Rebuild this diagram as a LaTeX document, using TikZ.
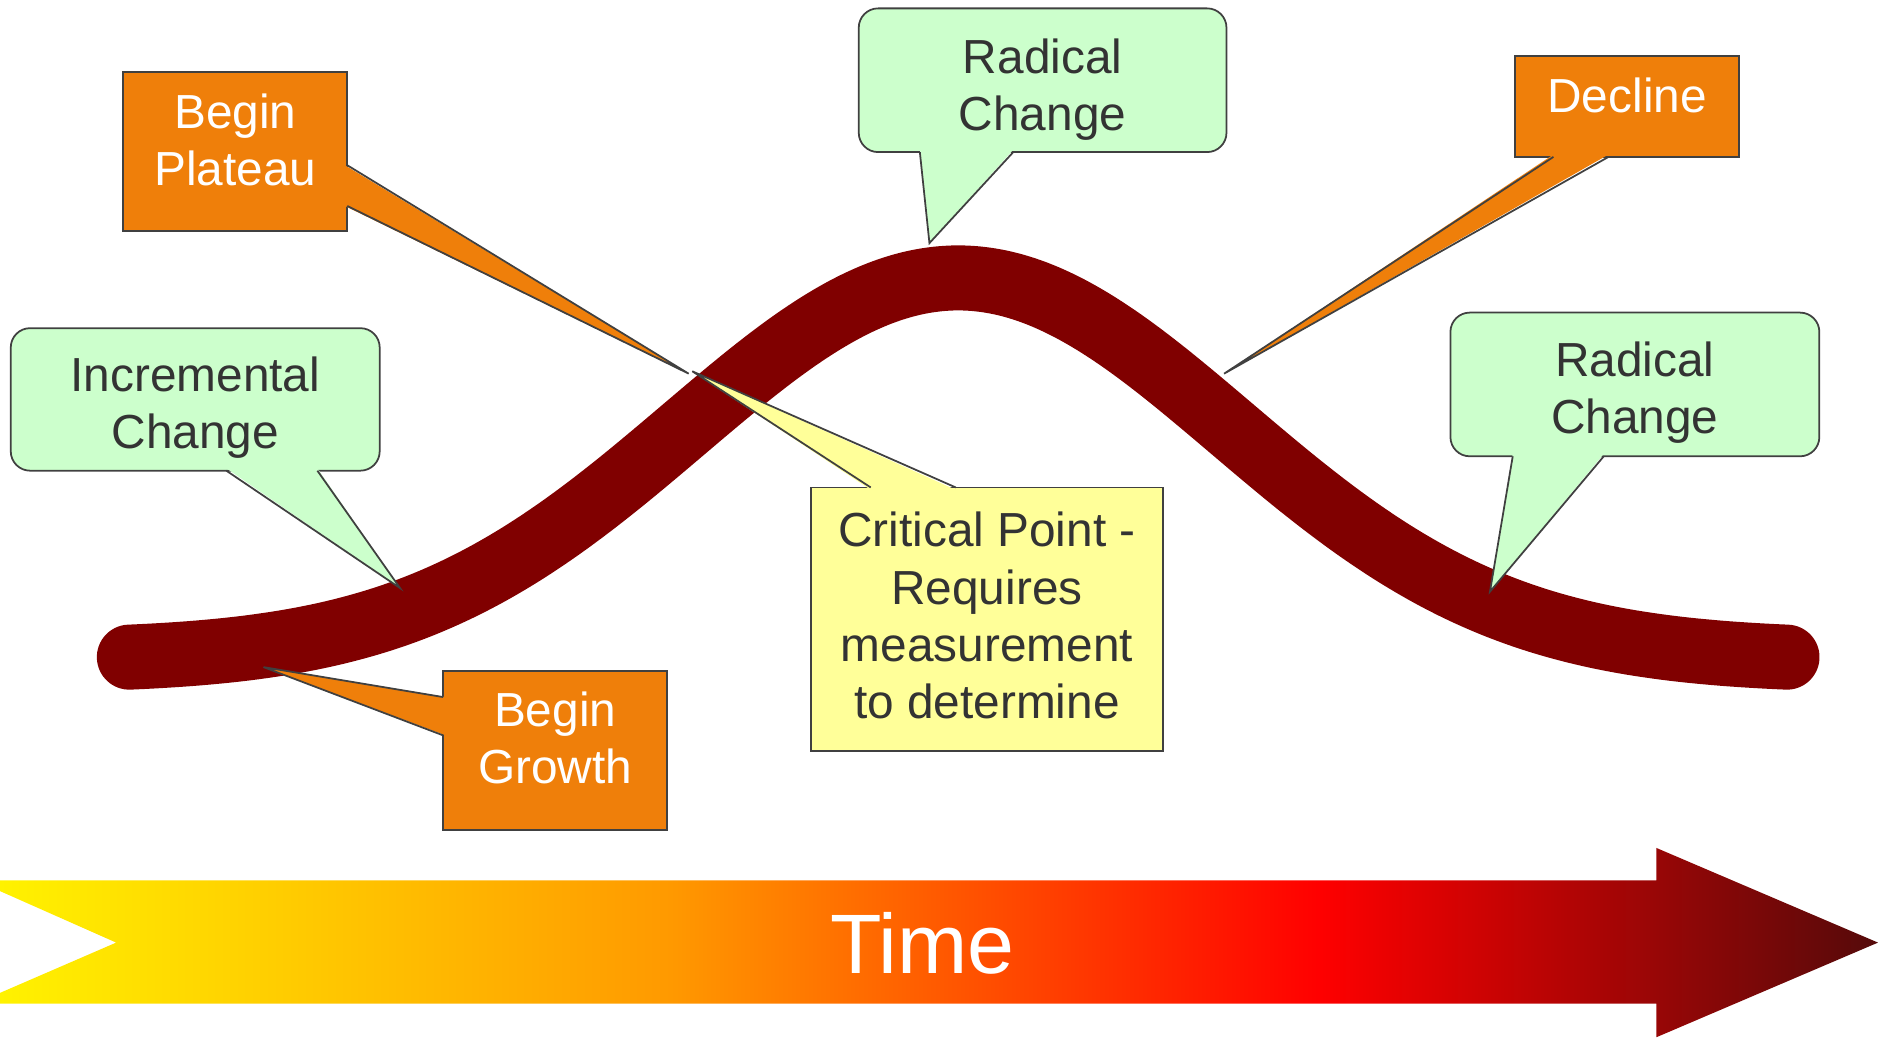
\documentclass[tikz,border=0pt]{standalone}
\usepackage{fontspec}
\setmainfont{Liberation Sans}
\definecolor{curvered}{RGB}{128,0,0}
\definecolor{boxorange}{RGB}{239,127,10}
\definecolor{boxgreen}{RGB}{204,255,204}
\definecolor{boxyellow}{RGB}{255,255,153}
\definecolor{edgegray}{RGB}{64,64,64}
\definecolor{textgray}{RGB}{51,51,51}
\definecolor{timeyellow}{RGB}{255,242,0}
\definecolor{timeorange}{RGB}{255,153,0}
\definecolor{timered}{RGB}{255,0,0}
\definecolor{timedark}{RGB}{85,10,10}
\pgfdeclarehorizontalshading{timeshade}{100bp}{color(0bp)=(timeyellow); color(25bp)=(timeyellow); color(42.86bp)=(timeorange); color(60.08bp)=(timered); color(75bp)=(timedark); color(100bp)=(timedark)}
\tikzset{
  callbox/.style={draw=edgegray, line width=0.5pt, inner sep=0pt},
  orangebox/.style={callbox, fill=boxorange},
  greenbox/.style={callbox, fill=boxgreen, rounded corners=5.5pt},
  yellowbox/.style={callbox, fill=boxyellow},
  ptredge/.style={draw=edgegray, line width=0.5pt},
  calltext/.style={font=\fontsize{13.6pt}{16.3pt}\selectfont, align=center, inner sep=0pt},
  darktext/.style={calltext, text=textgray},
  lighttext/.style={calltext, text=white}
}
\begin{document}
\begin{tikzpicture}[x=0.11977mm, y=-0.11977mm]
\useasboundingbox (0,0) rectangle (1568,867);

\draw[curvered, line width=18.5pt, line cap=round] plot[domain=108:1492, samples=140, smooth] (\x, {551.9-319.8*exp(-(((\x-800)/323)^2))});

\shade[shading=timeshade] (0,735) -- (1383,735) -- (1383,708) -- (1568,787) -- (1383,866) -- (1383,838) -- (0,838) -- (0,829) -- (97,787) -- (0,744) -- cycle;
\node[font=\fontsize{24pt}{29pt}\selectfont, text=white, inner sep=0pt] (time) at (770,788) {Time};

\node[orangebox, minimum width=22.40mm, minimum height=15.93mm] (plateau box) at (196.5,126.5) {};
\coordinate (plateau tip) at (575,312);
\fill[boxorange] (288,138) -- (plateau tip) -- (288,172) -- cycle;
\draw[ptredge] (290,138) -- (plateau tip) -- (290,172);
\node[lighttext] (plateau) at (196.5,117) {Begin\\Plateau};

\node[greenbox, minimum width=36.77mm, minimum height=14.37mm] (radical top box) at (870.5,67) {};
\coordinate (radical top tip) at (776,203);
\fill[boxgreen] (768,125) -- (radical top tip) -- (846,125) -- cycle;
\draw[ptredge] (768,127) -- (radical top tip) -- (846,127);
\node[darktext] (radical top) at (870.5,75) {Radical\\Change};

\node[orangebox, minimum width=22.40mm, minimum height=10.06mm] (decline box) at (1358.5,89) {};
\coordinate (decline tip) at (1022,312);
\fill[boxorange] (1297,129) -- (decline tip) -- (1343,129) -- cycle;
\draw[ptredge] (1297,131) -- (decline tip) -- (1343,131);
\node[lighttext] (decline) at (1358.5,79.5) {Decline};

\node[greenbox, minimum width=36.89mm, minimum height=14.37mm] (radical right box) at (1365,321) {};
\coordinate (radical right tip) at (1244,494);
\fill[boxgreen] (1263,379) -- (radical right tip) -- (1339,379) -- cycle;
\draw[ptredge] (1263,381) -- (radical right tip) -- (1339,381);
\node[darktext] (radical right) at (1365,328) {Radical\\Change};

\node[greenbox, minimum width=36.89mm, minimum height=14.25mm] (incremental box) at (163,333.5) {};
\coordinate (incremental tip) at (334,491);
\fill[boxgreen] (189,391) -- (incremental tip) -- (265,391) -- cycle;
\draw[ptredge] (189,393) -- (incremental tip) -- (265,393);
\node[darktext] (incremental) at (163,340.5) {Incremental\\Change};

\node[orangebox, minimum width=22.40mm, minimum height=15.93mm] (growth box) at (463.5,626.5) {};
\coordinate (growth tip) at (220,557);
\fill[boxorange] (372,582) -- (growth tip) -- (372,614) -- cycle;
\draw[ptredge] (370,582) -- (growth tip) -- (370,614);
\node[lighttext] (growth) at (463.5,616) {Begin\\Growth};

\node[yellowbox, minimum width=35.21mm, minimum height=26.35mm] (critical box) at (824,517) {};
\coordinate (critical tip) at (578,310);
\fill[boxyellow] (727,409) -- (critical tip) -- (798,409) -- cycle;
\draw[ptredge] (727,407) -- (critical tip) -- (798,407);
\node[darktext] (critical) at (824,514) {Critical Point -\\Requires\\measurement\\to determine};
\end{tikzpicture}
\end{document}
